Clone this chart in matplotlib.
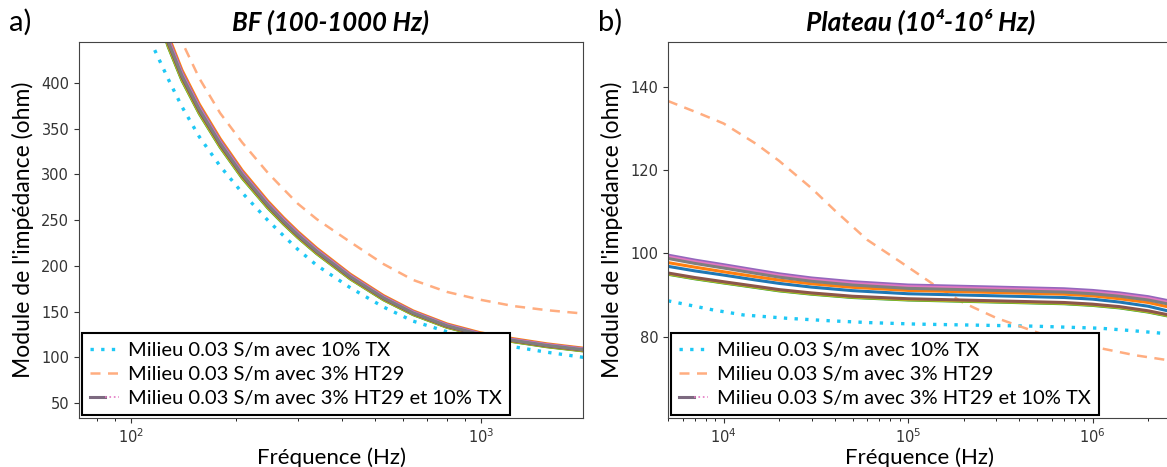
import matplotlib
matplotlib.use("Agg")
import matplotlib.pyplot as plt
from matplotlib.lines import Line2D
from matplotlib.legend_handler import HandlerTuple

# ---- data ----
# a) low frequency range
freq_bf = [117, 128, 140, 157, 180, 208, 246, 273, 300, 340, 424, 527, 641, 800, 995, 1240, 1545, 2000]
tx_bf = [436, 404, 374, 341, 309, 280, 250, 233, 218, 200.5, 176, 155, 139.5, 128, 119, 111.5, 105.5, 99.5]
ht29_bf = [530, 487, 445, 405, 367, 335, 302, 284, 268, 251, 226, 202, 184.5, 171.5, 163, 156, 151.5, 147.5]
# 3% HT29 + 10% TX, one list per replicate
mix_bf = [
    [485.6, 441.0, 404.3, 367.7, 331.0, 297.3, 264.6, 246.8, 231.9, 214.1, 186.3, 163.5, 147.2, 133.3, 123.9, 117.4, 112.0, 107.0],
    [497.4, 451.7, 414.1, 376.6, 339.0, 304.5, 271.0, 252.7, 237.5, 219.2, 190.8, 167.5, 150.7, 136.5, 126.9, 120.3, 114.7, 109.6],
    [483.6, 439.2, 402.7, 366.2, 329.7, 296.1, 263.5, 245.8, 231.0, 213.2, 185.6, 162.9, 146.6, 132.8, 123.4, 117.0, 111.5, 106.6],
    [484.6, 440.1, 403.5, 366.9, 330.3, 296.7, 264.1, 246.3, 231.4, 213.6, 185.9, 163.2, 146.9, 133.0, 123.6, 117.2, 111.8, 106.8],
    [493.9, 448.6, 411.3, 374.0, 336.7, 302.4, 269.1, 251.0, 235.9, 217.7, 189.5, 166.3, 149.7, 135.6, 126.0, 119.4, 113.9, 108.9],
    [487.6, 442.8, 406.0, 369.1, 332.3, 298.5, 265.7, 247.8, 232.8, 214.9, 187.1, 164.2, 147.8, 133.8, 124.4, 117.9, 112.4, 107.5],
    [492.0, 446.8, 409.6, 372.5, 335.3, 301.2, 268.1, 250.0, 234.9, 216.9, 188.8, 165.7, 149.1, 135.0, 125.5, 119.0, 113.5, 108.4],
    [490.0, 445.0, 408.0, 371.0, 334.0, 300.0, 267.0, 249.0, 234.0, 216.0, 188.0, 165.0, 148.5, 134.5, 125.0, 118.5, 113.0, 108.0],
]

# b) plateau range
freq_tx_pl = [5e3, 8.8e3, 1.28e4, 2.2e4, 3.75e4, 6.2e4, 1.1e5, 4.8e5, 1.1e6, 1.66e6, 2.66e6]
tx_pl = [88.6, 86.4, 85.2, 84.4, 83.8, 83.35, 83.0, 82.5, 82.0, 81.4, 80.6]
freq_ht29_pl = [5e3, 7.5e3, 1e4, 1.5e4, 2e4, 3e4, 4e4, 6e4, 9e4, 1.4e5, 2e5, 3e5, 5e5, 7e5, 1.1e6, 1.7e6, 2.66e6]
ht29_pl = [136.7, 133.6, 131.3, 126.4, 122.3, 115.7, 110.4, 103.3, 98.1, 92.3, 88.1, 84.5, 81.0, 79.0, 77.2, 75.5, 74.2]
freq_mix_pl = [5e3, 7e3, 1e4, 1.5e4, 2e4, 3e4, 5e4, 1e5, 3e5, 7e5, 1e6, 1.4e6, 2e6, 2.66e6]
mix_pl = [
    [96.9, 95.8, 94.8, 93.6, 92.8, 91.9, 91.05, 90.3, 89.8, 89.4, 89.0, 88.3, 87.3, 86.0],
    [97.8, 96.7, 95.6, 94.4, 93.6, 92.7, 91.85, 91.1, 90.6, 90.2, 89.8, 89.1, 88.2, 87.0],
    [95.0, 93.9, 92.9, 91.8, 91.0, 90.2, 89.4, 88.8, 88.3, 87.9, 87.5, 86.9, 85.9, 84.8],
    [95.1, 94.0, 93.0, 91.9, 91.1, 90.3, 89.5, 88.9, 88.4, 88.0, 87.6, 87.0, 86.0, 84.9],
    [99.6, 98.4, 97.3, 96.0, 95.1, 94.1, 93.2, 92.4, 91.9, 91.5, 91.1, 90.5, 89.6, 88.5],
    [95.3, 94.2, 93.2, 92.1, 91.3, 90.5, 89.7, 89.1, 88.6, 88.2, 87.8, 87.2, 86.2, 85.1],
    [99.2, 98.0, 96.9, 95.6, 94.7, 93.7, 92.8, 92.0, 91.5, 91.1, 90.7, 90.1, 89.2, 88.1],
    [98.8, 97.6, 96.5, 95.2, 94.3, 93.3, 92.4, 91.6, 91.1, 90.7, 90.3, 89.7, 88.8, 87.7],
]
mix_colors = ["#1f77b4", "#ff7f0e", "#2ca02c", "#bcbd22", "#9467bd", "#8c564b", "#e377c2", "#7f7f7f"]

labels = ["Milieu 0.03 S/m avec 10% TX",
          "Milieu 0.03 S/m avec 3% HT29",
          "Milieu 0.03 S/m avec 3% HT29 et 10% TX"]

TXT = ["Lato", "DejaVu Sans"]
TX_COLOR = "#1ec8f5"
HT_COLOR = "#ffad80"

fig = plt.figure(figsize=(11.67, 4.67), dpi=100)
ax1 = fig.add_axes([0.0677, 0.105, 0.4319, 0.805])
ax2 = fig.add_axes([0.5724, 0.105, 0.431, 0.805])


def draw(ax, f_tx, tx, f_ht, ht, f_mix, mix):
    ax.plot(f_tx, tx, ls=(0, (1, 2.2)), lw=2.4, color=TX_COLOR)
    ax.plot(f_ht, ht, ls=(0, (4, 3)), lw=1.8, color=HT_COLOR)
    for vals, c in zip(mix, mix_colors):
        ax.plot(f_mix, vals, color=c, lw=2.2, solid_capstyle="butt")
    ax.set_xscale("log")
    for s in ax.spines.values():
        s.set_color("#444444")
    ax.tick_params(labelsize=10.5, colors="#333333", labelcolor="#333333")
    ax.set_xlabel("Fréquence (Hz)", family=TXT, fontsize=16, labelpad=1)
    ax.set_ylabel("Module de l'impédance (ohm)", family=TXT, fontsize=16.5, labelpad=5)
    h = [Line2D([], [], ls=(0, (1, 2.2)), lw=2.4, color=TX_COLOR),
         Line2D([], [], ls=(0, (4, 3)), lw=1.8, color=HT_COLOR),
         (Line2D([], [], color="#7d6a80", lw=2.2),
          Line2D([], [], color="#e377c2", lw=1.2, ls=":"))]
    leg = ax.legend(h, labels, loc="lower left", prop={"family": TXT, "size": 14.5},
                    handler_map={tuple: HandlerTuple(ndivide=None, pad=0)},
                    fancybox=False, framealpha=1, edgecolor="black",
                    borderaxespad=0.15, handlelength=1.45, handletextpad=0.45,
                    labelspacing=0.35, borderpad=0.4)
    leg.get_frame().set_linewidth(1.5)


draw(ax1, freq_bf, tx_bf, freq_bf, ht29_bf, freq_bf, mix_bf)
ax1.set_xlim(71.1, 1960)
ax1.set_ylim(33.6, 444.8)
ax1.set_yticks([50, 100, 150, 200, 250, 300, 350, 400])

draw(ax2, freq_tx_pl, tx_pl, freq_ht29_pl, ht29_pl, freq_mix_pl, mix_pl)
ax2.set_xlim(5000, 2.66e6)
ax2.set_ylim(60.4, 150.9)
ax2.set_yticks([80, 100, 120, 140])

fig.text(0.2836, 0.953, "BF (100-1000 Hz)", family=TXT, fontsize=18.5,
         fontweight="bold", fontstyle="italic", ha="center", va="center")
fig.text(0.789, 0.953, "Plateau (10⁴-10⁶ Hz)", family=TXT, fontsize=19,
         fontweight="bold", fontstyle="italic", ha="center", va="center")
fig.text(0.008, 0.953, "a)", family=TXT, fontsize=21, va="center")
fig.text(0.512, 0.953, "b)", family=TXT, fontsize=21, va="center")

fig.savefig("out.png", dpi=100)
